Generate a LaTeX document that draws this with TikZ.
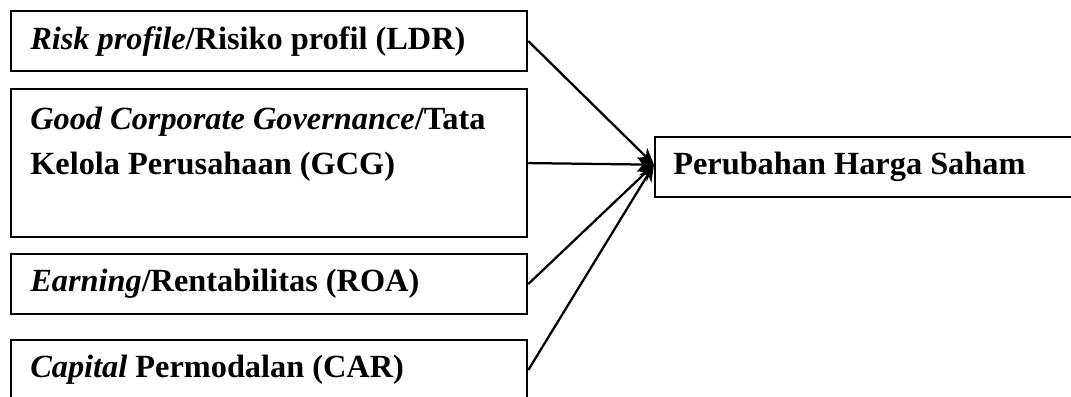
\documentclass[tikz,border=0pt]{standalone}
\usepackage{fontspec}
\setmainfont{Liberation Serif}
\usetikzlibrary{arrows.meta,positioning}

\tikzset{
  varbox/.style={draw, line width=1.5pt, minimum width=12.9cm, minimum height=1.5cm,
    inner sep=0pt, anchor=north west},
  boxtext/.style={anchor=west, inner sep=0pt, align=left,
    font=\fontsize{23}{32}\selectfont\bfseries},
  arrow/.style={-{Stealth[length=0.42cm,width=0.36cm]}, line width=1.6pt}
}

\begin{document}
\begin{tikzpicture}[x=0.025cm, y=-0.025cm]
\useasboundingbox (0,0) rectangle (1071,396);
\clip (0,0) rectangle (1071,396);

% Boxes on the left
\node[varbox] (ldr) at (10,10) {};
\node[varbox, minimum height=3.7cm] (gcg) at (10,88) {};
\node[varbox] (roa) at (10,253) {};
\node[varbox] (car) at (10,339) {};

% Box on the right
\node[varbox, minimum width=11cm, minimum height=1.5cm] (saham) at (654,136) {};
\coordinate (hub) at ([yshift=0.06cm]saham.west);

% Texts in the boxes
\node[boxtext] (ldrtext) at ([xshift=0.5cm]ldr.west) {\textit{Risk profile}/Risiko profil (LDR)};
\node[boxtext, anchor=north west] (gcgtext) at ([xshift=0.5cm, yshift=-0.46cm]gcg.north west)
  {\textit{Good Corporate Governance}/Tata\\Kelola Perusahaan (GCG)};
\node[boxtext] (roatext) at ([xshift=0.5cm]roa.west) {\textit{Earning}/Rentabilitas (ROA)};
\node[boxtext] (cartext) at ([xshift=0.5cm]car.west) {\textit{Capital} Permodalan (CAR)};
\node[boxtext] (sahamtext) at ([xshift=0.475cm]saham.west) {Perubahan Harga Saham};

% Arrows into the right box
\foreach \src in {ldr,gcg,roa,car} {
    \draw[arrow] (\src.east) -- (hub);
}

\end{tikzpicture}
\end{document}
